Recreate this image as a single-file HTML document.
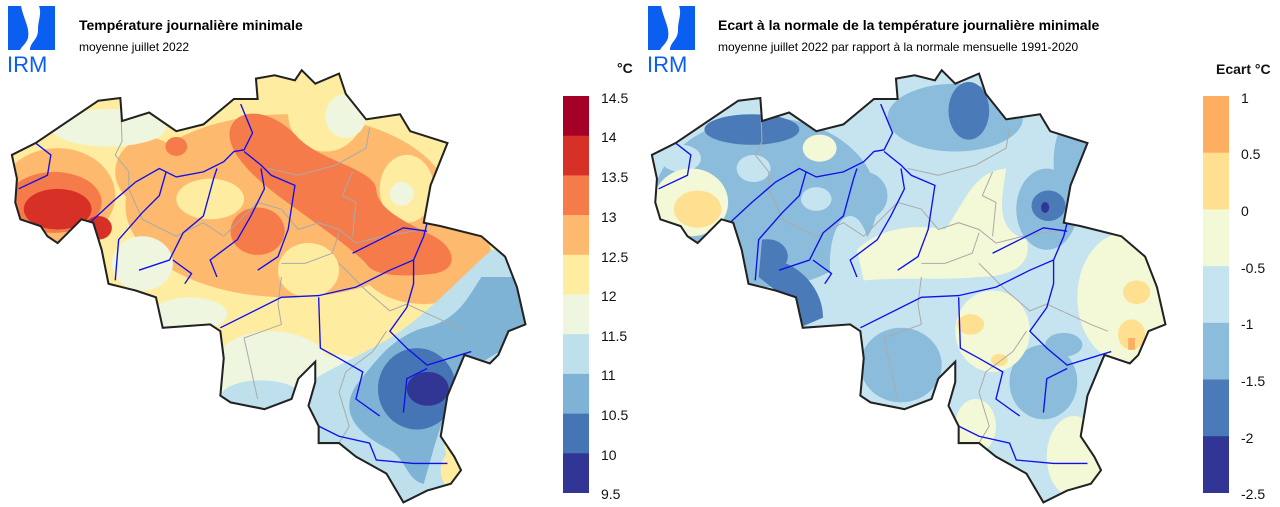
<!DOCTYPE html>
<html><head><meta charset="utf-8"><style>
html,body{margin:0;padding:0;background:#fff}
svg{display:block;font-family:"Liberation Sans",Arial,sans-serif}
</style></head><body>
<svg width="1280" height="507" viewBox="0 0 1280 507" xmlns="http://www.w3.org/2000/svg">
<defs>
<path id="be" d="M35,280 L105,245 L290,120 L355,112 L360,180 L440,155 L520,210 L600,190 L690,115 L760,115 L755,55 L810,45 L870,60 L890,30 L930,70 L1000,40 L1020,100 L1080,175 L1180,160 L1210,210 L1320,245 L1270,370 L1250,480 L1300,490 L1420,520 L1490,580 L1525,670 L1550,780 L1500,800 L1470,870 L1445,895 L1370,870 L1320,990 L1300,1110 L1340,1170 L1360,1210 L1330,1250 L1260,1270 L1190,1305 L1140,1220 L1050,1170 L1000,1130 L940,1130 L940,1080 L910,1020 L930,950 L930,890 L880,940 L860,1000 L780,1030 L680,1010 L650,990 L660,880 L650,800 L620,780 L480,790 L460,700 L400,680 L320,660 L300,560 L275,480 L240,470 L170,540 L140,520 L120,490 L60,470 L45,420 L50,350 Z"/>
<clipPath id="cp"><use href="#be"/></clipPath>
<g id="rivers" fill="none" stroke="#1010ee" stroke-width="4">
<path d="M55,380 L140,340 L150,280 L105,245"/>
<path d="M265,480 L330,420 L400,360 L470,320 L520,345 L600,330 L660,300 L690,270 L720,265 L745,215 L710,130"/>
<path d="M340,650 L350,530 L420,450 L470,400 L490,330"/>
<path d="M410,620 L500,590 L540,510 L600,460 L630,350 L640,320"/>
<path d="M510,590 L565,630 L545,660"/>
<path d="M760,620 L820,580 L850,500 L870,370 L800,340 L770,310 L720,270"/>
<path d="M640,640 L620,590 L700,530 L740,460 L780,380 L770,320"/>
<path d="M650,790 L830,700 L940,695 L1050,670 L1150,620 L1220,590 L1250,520 L1260,480"/>
<path d="M1040,570 L1120,530 L1190,495 L1260,505"/>
<path d="M940,700 L945,850 L1000,880 L1070,920 L1050,1000 L1120,1050"/>
<path d="M1220,590 L1220,660 L1200,730 L1150,800 L1200,850 L1260,900 L1390,860"/>
<path d="M1260,910 L1200,940 L1190,1040"/>
<path d="M940,1080 L1000,1110 L1090,1130 L1110,1180 L1220,1190 L1320,1190"/>
</g>
<g id="borders" fill="none" stroke="#aaa" stroke-width="3">
<path d="M355,112 L360,240 L340,280 L380,330 L380,380 L420,470 L520,520 L600,480 L660,520 L720,460 L760,420 L830,440 L880,500 L940,480 L1000,500 L1050,540 L1130,520 L1250,500"/>
<path d="M1090,200 L1080,260 L990,310 L880,340 L790,320"/>
<path d="M1040,330 L1010,400 L1050,420 L1040,520"/>
<path d="M830,600 L900,600 L980,570 L1000,510"/>
<path d="M830,640 L820,720 L830,780 L720,820 L760,1000"/>
<path d="M1000,600 L1080,680 L1150,740 L1200,720 L1330,780 L1380,800"/>
<path d="M1140,800 L1100,860 L1020,920 L1000,980 L1030,1080 L1000,1130"/>
</g>
</defs>

<g fill="#0a5ef0">
<path d="M8,6 L21,6 C24,20 30,28 28,38 C26,44 22,46 20,50 L8,50 Z"/>
<path d="M39,6 L55,6 L55,50 L30,50 C30,42 38,40 38,30 C38,20 42,14 39,6 Z"/>
<text x="7" y="72" font-size="22">IRM</text>
<path d="M648,6 L661,6 C664,20 670,28 668,38 C666,44 662,46 660,50 L648,50 Z"/>
<path d="M679,6 L695,6 L695,50 L670,50 C670,42 678,40 678,30 C678,20 682,14 679,6 Z"/>
<text x="647" y="72" font-size="22">IRM</text>
</g>
<text x="79" y="30" font-size="14" font-weight="bold">Température journalière minimale</text>
<text x="79" y="51" font-size="12">moyenne juillet 2022</text>
<text x="718" y="30" font-size="14" font-weight="bold">Ecart à la normale de la température journalière minimale</text>
<text x="718" y="51" font-size="12">moyenne juillet 2022 par rapport à la normale mensuelle 1991-2020</text>

<g transform="translate(0,60) scale(0.339)">
<g clip-path="url(#cp)">
<rect x="0" y="0" width="1600" height="1320" fill="#feeda0"/>
<ellipse cx="850" cy="430" rx="480" ry="270" fill="#fdb96d"/>
<ellipse cx="1250" cy="580" rx="200" ry="140" fill="#fdb96d"/>
<ellipse cx="170" cy="400" rx="170" ry="140" fill="#fdb96d"/>
<ellipse cx="440" cy="330" rx="100" ry="100" fill="#fdb96d"/>
<ellipse cx="620" cy="410" rx="100" ry="60" fill="#feeda0"/>
<ellipse cx="910" cy="620" rx="90" ry="80" fill="#feeda0"/>
<ellipse cx="1200" cy="380" rx="80" ry="100" fill="#feeda0"/>
<ellipse cx="960" cy="160" rx="110" ry="110" fill="#feeda0"/>
<ellipse cx="1060" cy="790" rx="120" ry="110" fill="#feeda0"/>
<ellipse cx="1020" cy="165" rx="60" ry="65" fill="#eef6e0"/>
<ellipse cx="1185" cy="395" rx="35" ry="35" fill="#eef6e0"/>
<ellipse cx="320" cy="200" rx="170" ry="55" fill="#eef6e0"/>
<ellipse cx="420" cy="600" rx="90" ry="80" fill="#eef6e0"/>
<ellipse cx="560" cy="750" rx="110" ry="50" fill="#eef6e0"/>
<ellipse cx="800" cy="920" rx="180" ry="120" fill="#eef6e0"/>
<ellipse cx="1000" cy="930" rx="90" ry="60" fill="#eef6e0"/>
<path d="M680,200 C700,140 800,140 880,230 C950,300 1100,320 1110,380 C1110,440 1200,480 1280,520 C1350,560 1350,620 1280,630 C1200,640 1100,640 1080,600 C1020,540 900,460 820,400 C740,340 660,260 680,200 Z" fill="#f57b4b"/>
<ellipse cx="760" cy="505" rx="80" ry="70" fill="#f57b4b"/>
<ellipse cx="520" cy="255" rx="32" ry="28" fill="#f57b4b"/>
<ellipse cx="160" cy="420" rx="140" ry="90" fill="#f57b4b"/>
<ellipse cx="170" cy="440" rx="100" ry="60" fill="#d73027"/>
<ellipse cx="290" cy="495" rx="40" ry="35" fill="#d73027"/>
<path d="M1450,560 C1350,650 1250,760 1150,820 C1050,880 950,920 900,960 L900,1320 L1300,1320 C1320,1250 1330,1200 1310,1140 L1560,800 L1560,560 Z" fill="#bde0ec"/>
<ellipse cx="770" cy="995" rx="120" ry="50" fill="#bde0ec"/>
<path d="M1420,640 C1380,700 1350,770 1250,790 C1150,820 1100,900 1050,960 C1000,1040 1050,1100 1150,1150 C1200,1180 1200,1240 1250,1250 C1280,1150 1300,1050 1360,950 C1420,870 1520,850 1560,800 L1560,640 Z" fill="#7fb3d5"/>
<ellipse cx="1230" cy="970" rx="115" ry="120" fill="#4575b4"/>
<ellipse cx="1262" cy="970" rx="62" ry="50" fill="#313695"/>
<ellipse cx="1330" cy="1210" rx="30" ry="50" fill="#feeda0"/>
<use href="#borders"/>
<use href="#rivers"/>
</g>
<use href="#be" fill="none" stroke="#222" stroke-width="6"/>
</g>

<g transform="translate(640,60) scale(0.339)">
<g clip-path="url(#cp)">
<rect x="0" y="0" width="1600" height="1320" fill="#c6e4ef"/>
<ellipse cx="370" cy="420" rx="330" ry="250" fill="#8bbcdb"/>
<ellipse cx="930" cy="170" rx="200" ry="100" fill="#8bbcdb"/>
<ellipse cx="1200" cy="440" rx="90" ry="120" fill="#8bbcdb"/>
<ellipse cx="1190" cy="950" rx="100" ry="110" fill="#8bbcdb"/>
<ellipse cx="770" cy="900" rx="120" ry="110" fill="#8bbcdb"/>
<ellipse cx="1250" cy="840" rx="55" ry="35" fill="#8bbcdb"/>
<ellipse cx="660" cy="400" rx="70" ry="70" fill="#8bbcdb"/>
<ellipse cx="1270" cy="300" rx="50" ry="120" fill="#8bbcdb"/>
<ellipse cx="335" cy="320" rx="50" ry="40" fill="#c6e4ef"/>
<ellipse cx="520" cy="410" rx="45" ry="35" fill="#c6e4ef"/>
<ellipse cx="620" cy="600" rx="60" ry="140" fill="#c6e4ef"/>
<ellipse cx="120" cy="290" rx="60" ry="40" fill="#c6e4ef"/>
<ellipse cx="330" cy="205" rx="140" ry="45" fill="#4a7ab7"/>
<ellipse cx="970" cy="150" rx="60" ry="85" fill="#4a7ab7"/>
<path d="M360,530 C420,520 450,570 430,600 C480,620 540,680 540,760 L470,790 L400,680 L350,640 Z" fill="#4a7ab7"/>
<ellipse cx="1205" cy="430" rx="50" ry="45" fill="#4a7ab7"/>
<ellipse cx="1195" cy="435" rx="12" ry="16" fill="#313695"/>
<ellipse cx="150" cy="420" rx="110" ry="100" fill="#f3f9d6"/>
<ellipse cx="530" cy="260" rx="50" ry="40" fill="#f3f9d6"/>
<path d="M640,560 C700,500 800,480 900,500 C960,420 980,330 1080,320 C1070,400 1040,500 1140,530 C1160,600 1100,640 1000,640 C900,650 780,640 660,650 Z" fill="#f3f9d6"/>
<ellipse cx="1430" cy="700" rx="140" ry="190" fill="#f3f9d6"/>
<ellipse cx="1040" cy="800" rx="110" ry="120" fill="#f3f9d6"/>
<ellipse cx="1280" cy="1170" rx="80" ry="120" fill="#f3f9d6"/>
<ellipse cx="990" cy="1080" rx="60" ry="80" fill="#f3f9d6"/>
<ellipse cx="170" cy="440" rx="70" ry="55" fill="#fee090"/>
<ellipse cx="975" cy="780" rx="40" ry="30" fill="#fee090"/>
<ellipse cx="1465" cy="685" rx="40" ry="35" fill="#fee090"/>
<ellipse cx="1450" cy="810" rx="40" ry="45" fill="#fee090"/>
<ellipse cx="1060" cy="885" rx="25" ry="18" fill="#fee090"/>
<rect x="1440" y="820" width="20" height="35" fill="#fdae61"/>
<use href="#borders"/>
<use href="#rivers"/>
</g>
<use href="#be" fill="none" stroke="#222" stroke-width="6"/>
</g>

<g>
<rect x="563" y="96" width="26" height="40" fill="#a50026"/>
<rect x="563" y="135.7" width="26" height="40" fill="#d73027"/>
<rect x="563" y="175.4" width="26" height="40" fill="#f57b4b"/>
<rect x="563" y="215.1" width="26" height="40" fill="#fdb96d"/>
<rect x="563" y="254.8" width="26" height="40" fill="#feeda0"/>
<rect x="563" y="294.5" width="26" height="40" fill="#eef6e0"/>
<rect x="563" y="334.2" width="26" height="40" fill="#bde0ec"/>
<rect x="563" y="373.9" width="26" height="40" fill="#7fb3d5"/>
<rect x="563" y="413.6" width="26" height="40" fill="#4575b4"/>
<rect x="563" y="453.3" width="26" height="39.7" fill="#313695"/>
</g>
<g font-size="14" fill="#111">
<text x="617" y="73" font-weight="bold">°C</text>
<text x="601" y="103">14.5</text><text x="601" y="142">14</text><text x="601" y="182">13.5</text>
<text x="601" y="222">13</text><text x="601" y="262">12.5</text><text x="601" y="301">12</text>
<text x="601" y="341">11.5</text><text x="601" y="380">11</text><text x="601" y="420">10.5</text>
<text x="601" y="460">10</text><text x="601" y="499">9.5</text>
</g>
<g>
<rect x="1203" y="96" width="26" height="57" fill="#fdae61"/>
<rect x="1203" y="152.7" width="26" height="57" fill="#fee090"/>
<rect x="1203" y="209.4" width="26" height="57" fill="#f3f9d6"/>
<rect x="1203" y="266.1" width="26" height="57" fill="#c6e4ef"/>
<rect x="1203" y="322.8" width="26" height="57" fill="#8bbcdb"/>
<rect x="1203" y="379.5" width="26" height="57" fill="#4a7ab7"/>
<rect x="1203" y="436.2" width="26" height="56.8" fill="#313695"/>
</g>
<g font-size="14" fill="#111">
<text x="1216" y="74" font-weight="bold">Ecart °C</text>
<text x="1241" y="103">1</text><text x="1241" y="159">0.5</text><text x="1241" y="216">0</text>
<text x="1241" y="273">-0.5</text><text x="1241" y="329">-1</text><text x="1241" y="386">-1.5</text>
<text x="1241" y="443">-2</text><text x="1241" y="499">-2.5</text>
</g>
</svg>
</body></html>
